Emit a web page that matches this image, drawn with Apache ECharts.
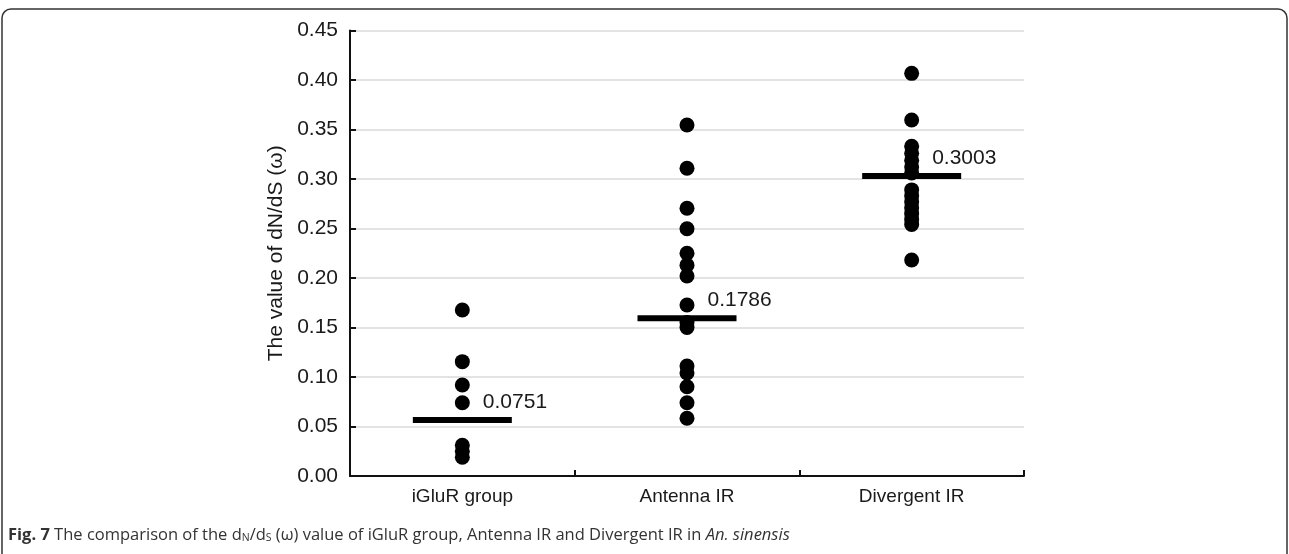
<!DOCTYPE html>
<html>
<head>
<meta charset="utf-8">
<script src="https://cdn.jsdelivr.net/npm/echarts@6/dist/echarts.min.js"></script>
<style>
html,body{margin:0;padding:0;background:#fff;}
#chart{width:1289px;height:554px;}
</style>
</head>
<body>
<div id="chart"></div>
<script>
// ---- data ----
var categories = ['iGluR group', 'Antenna IR', 'Divergent IR'];
var iglurValues = [0.1677, 0.1155, 0.0919, 0.0740, 0.031, 0.025, 0.019];
var antennaValues = [0.3545, 0.3108, 0.2704, 0.2497, 0.225, 0.213, 0.202, 0.1727, 0.155, 0.150, 0.111, 0.104, 0.0902, 0.0740, 0.0583];
var divergentValues = [0.4067, 0.3596, 0.333, 0.326, 0.319, 0.312, 0.306, 0.289, 0.283, 0.277, 0.271, 0.265, 0.259, 0.254, 0.2182];
var centerLineValues = [0.0566, 0.1593, 0.3030];
var centerLabels = ['0.0751', '0.1786', '0.3003'];
var yTicks = [0, 0.05, 0.10, 0.15, 0.20, 0.25, 0.30, 0.35, 0.40, 0.45];

var groups = [iglurValues, antennaValues, divergentValues];
var pointData = [];
groups.forEach(function (vals, i) {
  vals.forEach(function (v) { pointData.push([categories[i], v]); });
});
var lineData = centerLineValues.map(function (v, i) {
  return { value: [categories[i], v], label: { formatter: centerLabels[i] } };
});

var font = 'Liberation Sans, Arial, sans-serif';
var chart = echarts.init(document.getElementById('chart'), null, { renderer: 'canvas' });
chart.setOption({
  animation: false,
  backgroundColor: '#ffffff',
  grid: { left: 350, right: 265, top: 30.5, bottom: 78 },
  xAxis: {
    type: 'category',
    data: categories,
    boundaryGap: true,
    axisLine: { show: true, lineStyle: { color: '#111', width: 2 } },
    axisTick: { show: true, inside: true, length: 6, lineStyle: { color: '#111', width: 2 } },
    axisLabel: { color: '#1a1a1a', fontSize: 19, fontFamily: font, margin: 11 },
    splitLine: { show: false }
  },
  yAxis: {
    type: 'value',
    min: 0,
    max: 0.45,
    interval: 0.05,
    name: 'The value of dN/dS (\u03c9)',
    nameLocation: 'middle',
    nameRotate: 90,
    nameGap: 60,
    nameTextStyle: { color: '#1a1a1a', fontSize: 21, fontFamily: font },
    axisLine: { show: true, lineStyle: { color: '#111', width: 2 } },
    axisTick: { show: true, inside: true, length: 6, lineStyle: { color: '#111', width: 2 } },
    axisLabel: {
      color: '#1a1a1a', fontSize: 21, fontFamily: font, margin: 12,
      formatter: function (v) { return v.toFixed(2); }
    },
    splitLine: { show: true, lineStyle: { color: '#dadada', width: 1.5 } }
  },
  series: [
    {
      type: 'scatter',
      data: pointData,
      symbol: 'circle',
      symbolSize: 15,
      itemStyle: { color: '#000', opacity: 1 },
      z: 3
    },
    {
      type: 'scatter',
      data: lineData,
      symbol: 'rect',
      symbolSize: [99, 6],
      itemStyle: { color: '#000', opacity: 1 },
      z: 4,
      label: {
        show: true,
        position: [70, -15],
        align: 'left',
        verticalAlign: 'middle',
        color: '#1a1a1a',
        fontSize: 21,
        fontFamily: font
      }
    }
  ],
  graphic: [
    {
      type: 'rect',
      shape: { x: 2, y: 9, width: 1285, height: 560, r: 9 },
      style: { fill: 'none', stroke: '#333', lineWidth: 1.5 },
      silent: true
    },
    {
      type: 'text',
      left: 8,
      top: 527,
      style: {
        text: '{b|Fig. 7} The comparison of the d{sub|N}/d{sub|S} (\u03c9) value of iGluR group, Antenna IR and Divergent IR in {i|An. sinensis}',
        fontFamily: 'Open Sans, sans-serif',
        fontSize: 16.5,
        fill: '#333',
        rich: {
          b: { fontWeight: 'bold', fontFamily: 'Open Sans, sans-serif', fontSize: 16.5, color: '#222' },
          sub: { fontFamily: 'Open Sans, sans-serif', fontSize: 10.5, verticalAlign: 'bottom', color: '#333', padding: [6, 0, 0, 0] },
          i: { fontStyle: 'italic', fontFamily: 'Open Sans, sans-serif', fontSize: 16.5, color: '#333' }
        }
      }
    }
  ]
});
</script>
</body>
</html>
